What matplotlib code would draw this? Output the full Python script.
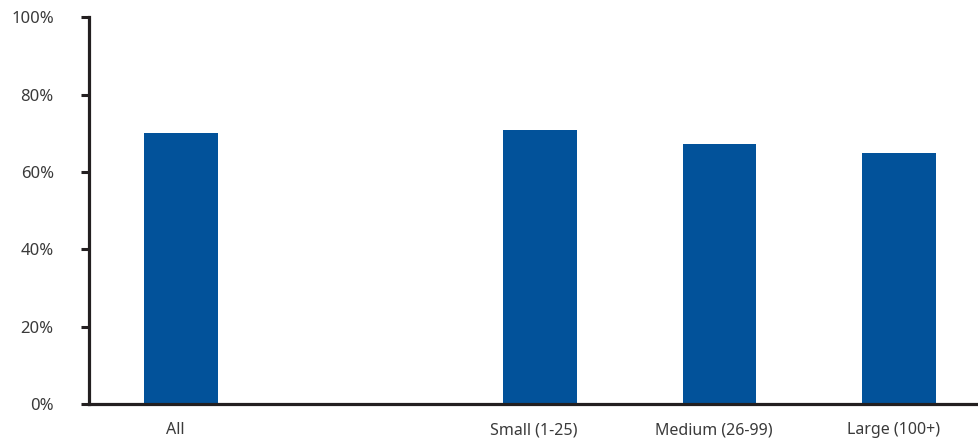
import matplotlib
matplotlib.use("Agg")
import matplotlib.pyplot as plt
from matplotlib.ticker import FuncFormatter
from matplotlib.transforms import ScaledTranslation

# Share of organisations, by size band
categories = ["All", "", "Small (1-25)", "Medium (26-99)", "Large (100+)"]
values = [70.1, None, 70.9, 67.2, 64.9]
yticks = [0, 20, 40, 60, 80, 100]

bar_color = "#02529A"
ink = "#231F20"
text_color = "#3a3a3a"

plt.rcParams["font.family"] = ["Noto Sans", "DejaVu Sans"]

fig = plt.figure(figsize=(9.79, 4.38), dpi=100)
W, H = 979, 438
ax = fig.add_axes([89 / W, 34 / H, 900 / W, 386.7 / H])

xs = [i for i, v in enumerate(values) if v is not None]
hs = [v for v in values if v is not None]
ax.bar(xs, hs, width=0.41, color=bar_color, zorder=2)

ax.set_xlim(-0.5125, 4.5)
ax.set_ylim(0, 100)
ax.set_yticks(yticks)
ax.yaxis.set_major_formatter(FuncFormatter(lambda v, p: f"{v:.0f}%"))
ax.set_xticks(range(len(categories)))
ax.set_xticklabels(categories)

for side in ("top", "right"):
    ax.spines[side].set_visible(False)
for side in ("left", "bottom"):
    ax.spines[side].set_color(ink)
    ax.spines[side].set_linewidth(2.3)

ax.tick_params(axis="y", direction="out", length=5.8, width=2.2, color=ink,
               labelsize=12, labelcolor=text_color, pad=19.5)
ax.tick_params(axis="x", length=0, labelsize=11.5, labelcolor=text_color, pad=13)

# category labels sit slightly left of their bars
shift = ScaledTranslation(-6 / 100, 0, fig.dpi_scale_trans)
for lbl in ax.get_xticklabels():
    lbl.set_transform(lbl.get_transform() + shift)

fig.savefig("out.png", dpi=100)
